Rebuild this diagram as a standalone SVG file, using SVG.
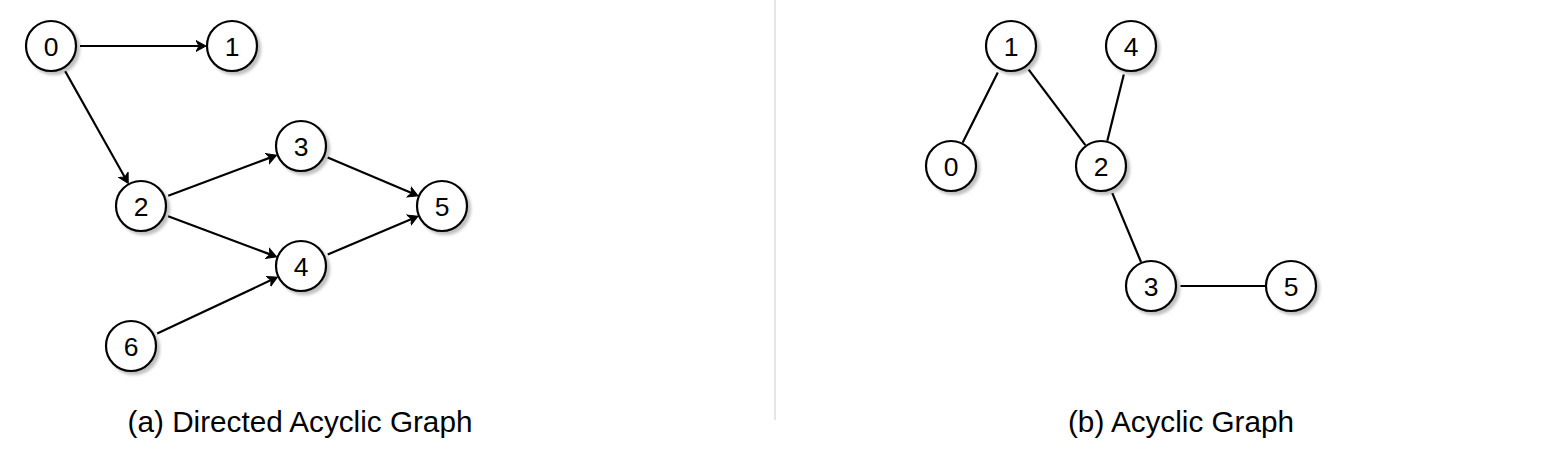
<svg xmlns="http://www.w3.org/2000/svg" width="1543" height="454" viewBox="0 0 1543 454">
<defs>
<style>
.node circle{fill:#fff;stroke:#000;stroke-width:2.2;filter:url(#sh)}
.node text{font-family:"Liberation Sans",Arial,sans-serif;font-size:26.5px;text-anchor:middle;fill:#000}
.edge{stroke:#000;stroke-width:2.2;fill:none}
.arrow{marker-end:url(#arr)}
.cap{font-family:"Liberation Sans",Arial,sans-serif;font-size:29.7px;text-anchor:middle;fill:#000}
</style>
<filter id="sh" x="-30%" y="-30%" width="170%" height="170%">
<feGaussianBlur in="SourceAlpha" stdDeviation="1.6"/>
<feOffset dx="3" dy="3" result="b"/>
<feFlood flood-color="#000" flood-opacity="0.25"/>
<feComposite in2="b" operator="in"/>
<feMerge><feMergeNode/><feMergeNode in="SourceGraphic"/></feMerge>
</filter>
<marker id="arr" markerUnits="userSpaceOnUse" markerWidth="12" markerHeight="14" viewBox="0 -7 12 14" refX="3" refY="0" orient="auto">
<path d="M10,0 L0,-5.5 L3,0 L0,5.5 Z" fill="#000" stroke="#000" stroke-width="1" stroke-linejoin="miter"/>
</marker>
</defs>
<rect width="1543" height="454" fill="#fff"/>
<line x1="775" y1="0" x2="775" y2="420" stroke="#e6e6e6" stroke-width="2"/>
<g id="connectors">
<line class="edge arrow" x1="80" y1="46" x2="199" y2="46"/>
<line class="edge arrow" x1="65.2" y1="71.3" x2="124.8" y2="177.2"/>
<line class="edge arrow" x1="168.2" y1="195.8" x2="270.1" y2="157.6"/>
<line class="edge arrow" x1="168.2" y1="216.2" x2="270.1" y2="254.4"/>
<line class="edge arrow" x1="327.7" y1="157.4" x2="411.6" y2="193.1"/>
<line class="edge arrow" x1="327.7" y1="254.6" x2="411.6" y2="218.9"/>
<line class="edge arrow" x1="157.2" y1="333.6" x2="271.1" y2="280.1"/>
<line class="edge" x1="997.8" y1="72.4" x2="962.6" y2="142.7"/>
<line class="edge" x1="1028.7" y1="69.6" x2="1085.4" y2="145.2"/>
<line class="edge" x1="1123.8" y1="74.6" x2="1107.3" y2="140.8"/>
<line class="edge" x1="1112.3" y1="193.2" x2="1141" y2="262"/>
<line class="edge" x1="1180.5" y1="286" x2="1265" y2="286"/>
</g>
<g id="a0" class="node"><circle cx="51" cy="46" r="25"/><text x="51" y="55.5">0</text></g>
<g id="a1" class="node"><circle cx="232" cy="46" r="25"/><text x="232" y="55.5">1</text></g>
<g id="a2" class="node"><circle cx="141" cy="206" r="25"/><text x="141" y="215.5">2</text></g>
<g id="a3" class="node"><circle cx="301" cy="146" r="25"/><text x="301" y="155.5">3</text></g>
<g id="a4" class="node"><circle cx="301" cy="266" r="25"/><text x="301" y="275.5">4</text></g>
<g id="a5" class="node"><circle cx="442" cy="206" r="25"/><text x="442" y="215.5">5</text></g>
<g id="a6" class="node"><circle cx="131" cy="346" r="25"/><text x="131" y="355.5">6</text></g>
<g id="b0" class="node"><circle cx="951" cy="166" r="25"/><text x="951" y="175.5">0</text></g>
<g id="b1" class="node"><circle cx="1011" cy="46" r="25"/><text x="1011" y="55.5">1</text></g>
<g id="b2" class="node"><circle cx="1101" cy="166" r="25"/><text x="1101" y="175.5">2</text></g>
<g id="b3" class="node"><circle cx="1151" cy="286" r="25"/><text x="1151" y="295.5">3</text></g>
<g id="b4" class="node"><circle cx="1131" cy="46" r="25"/><text x="1131" y="55.5">4</text></g>
<g id="b5" class="node"><circle cx="1291" cy="286" r="25"/><text x="1291" y="295.5">5</text></g>
<text class="cap" x="300" y="432">(a) Directed Acyclic Graph</text>
<text class="cap" x="1181" y="432">(b) Acyclic Graph</text>
</svg>
